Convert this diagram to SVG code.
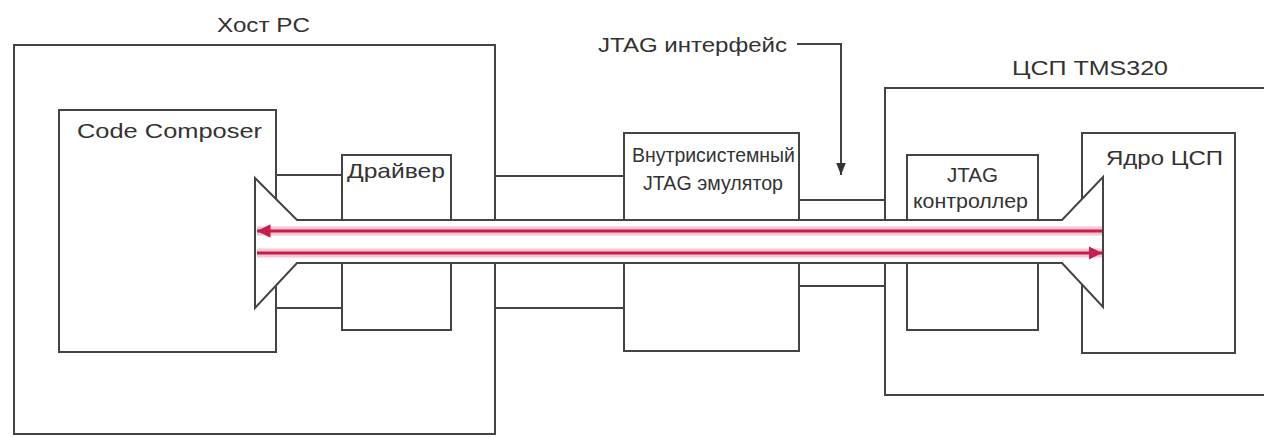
<svg xmlns="http://www.w3.org/2000/svg" width="1264" height="437" viewBox="0 0 1264 437">
<style>
.box{fill:#fff;stroke:#444;stroke-width:2}
.ln{fill:none;stroke:#444;stroke-width:2}
.t{font-family:"Liberation Sans",Arial,sans-serif;font-size:21px;fill:#333}
.halo{fill:none;stroke:#f6c4d2;stroke-width:9}
.red{fill:none;stroke:#c41e4c;stroke-width:3}
</style>
<defs>
<marker id="rarr" viewBox="0 0 10 10" refX="10" refY="5" markerWidth="4.5" markerHeight="4.5" orient="auto" markerUnits="strokeWidth">
<path d="M0,0 L10,5 L0,10 z" fill="#c41e4c"/>
</marker>
<marker id="karr" viewBox="0 0 10 10" refX="10" refY="5" markerWidth="6" markerHeight="6" orient="auto" markerUnits="strokeWidth">
<path d="M0,1 L10,5 L0,9 z" fill="#333"/>
</marker>
</defs>
<rect width="1264" height="437" fill="#fff"/>

<g id="host">
<rect class="box" x="14" y="45" width="481" height="389"/>
<text class="t" x="217" y="32" textLength="93" lengthAdjust="spacingAndGlyphs">Хост PC</text>
</g>
<g id="dsp">
<rect class="box" x="885" y="88" width="390" height="307"/>
<text class="t" x="1012" y="75" textLength="156" lengthAdjust="spacingAndGlyphs">ЦСП TMS320</text>
</g>

<g id="connectors">
<path class="ln" d="M276,175 H342 M276,308 H342 M495,176 H624 M495,308 H624 M799,200 H885 M799,286 H885"/>
<path class="ln" d="M797,44 H841 V175" marker-end="url(#karr)"/>
</g>

<g id="codecomposer">
<rect class="box" x="59" y="110" width="217" height="242"/>
<text class="t" x="77" y="138" textLength="185" lengthAdjust="spacingAndGlyphs">Code Composer</text>
</g>
<g id="driver">
<rect class="box" x="342" y="155" width="109" height="175"/>
<text class="t" x="347" y="178" textLength="98" lengthAdjust="spacingAndGlyphs">Драйвер</text>
</g>
<g id="emulator">
<rect class="box" x="624" y="133" width="175" height="218"/>
<text class="t" x="632" y="162" textLength="163" lengthAdjust="spacingAndGlyphs">Внутрисистемный</text>
<text class="t" x="643" y="190" textLength="140" lengthAdjust="spacingAndGlyphs">JTAG эмулятор</text>
</g>
<g id="jtagctrl">
<rect class="box" x="907" y="155" width="131" height="175"/>
<text class="t" x="947" y="182" textLength="51" lengthAdjust="spacingAndGlyphs">JTAG</text>
<text class="t" x="913" y="208" textLength="115" lengthAdjust="spacingAndGlyphs">контроллер</text>
</g>
<g id="core">
<rect class="box" x="1082" y="133" width="153" height="220"/>
<text class="t" x="1106" y="165" textLength="117" lengthAdjust="spacingAndGlyphs">Ядро ЦСП</text>
</g>
<g id="jtaglabel">
<text class="t" x="598" y="52" textLength="189" lengthAdjust="spacingAndGlyphs">JTAG интерфейс</text>
</g>

<g id="tube">
<path d="M255,178 L297,220 H1062 L1103,177 V307 L1062,263 H297 L255,308 Z" fill="#fff" stroke="none"/>
<path class="ln" d="M255,178 L297,220 H1062 L1103,177 V307 L1062,263 H297 L255,308 Z"/>
<line class="halo" x1="257" y1="231" x2="1102" y2="231"/>
<line class="halo" x1="257" y1="253" x2="1102" y2="253"/>
<line class="red" x1="1102" y1="231" x2="257" y2="231" marker-end="url(#rarr)"/>
<line class="red" x1="257" y1="253" x2="1102" y2="253" marker-end="url(#rarr)"/>
</g>
</svg>
